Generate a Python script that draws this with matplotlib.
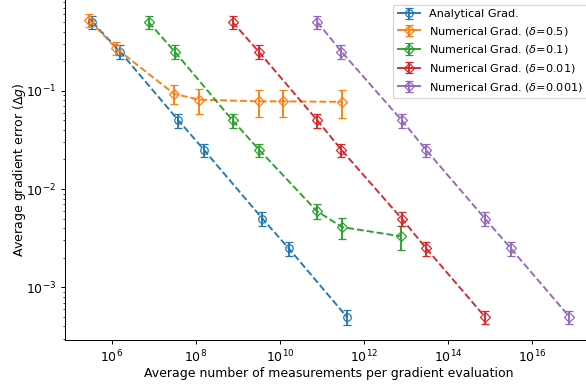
import numpy as np
import matplotlib
matplotlib.use("Agg")
import matplotlib.pyplot as plt
from matplotlib.lines import Line2D
from matplotlib.ticker import LogLocator, NullLocator

# Data
labels = ["Analytical Grad.",
          r"Numerical Grad. ($\delta$=0.5)",
          r"Numerical Grad. ($\delta$=0.1)",
          r"Numerical Grad. ($\delta$=0.01)",
          r"Numerical Grad. ($\delta$=0.001)"]

x_analytical = [3.4e5, 1.55e6, 3.8e7, 1.55e8, 3.8e9, 1.6e10, 3.9e11]
y_analytical = [0.5, 0.25, 0.05, 0.025, 0.005, 0.0025, 0.0005]
e_analytical = [0.08, 0.04, 0.008, 0.004, 0.0008, 0.0004, 0.00009]

x_d05 = [2.9e5, 1.25e6, 3.0e7, 1.2e8, 3.2e9, 1.2e10, 3.0e11]
y_d05 = [0.52, 0.27, 0.093, 0.081, 0.078, 0.078, 0.077]
e_d05 = [0.08, 0.04, 0.02, 0.023, 0.024, 0.024, 0.024]

x_d01 = [7.4e6, 3.1e7, 7.4e8, 3.2e9, 7.4e10, 3.0e11, 7.6e12]
y_d01 = [0.5, 0.25, 0.05, 0.025, 0.006, 0.0041, 0.0033]
e_d01 = [0.08, 0.04, 0.008, 0.004, 0.001, 0.001, 0.0009]

x_d001 = [7.4e8, 3.1e9, 7.7e10, 2.9e11, 7.9e12, 3.0e13, 7.6e14]
y_d001 = [0.5, 0.25, 0.05, 0.025, 0.005, 0.0025, 0.0005]
e_d001 = [0.08, 0.04, 0.008, 0.004, 0.0008, 0.0004, 0.00008]

x_d0001 = [7.7e10, 2.9e11, 7.9e12, 3.0e13, 7.6e14, 3.1e15, 7.8e16]
y_d0001 = [0.5, 0.25, 0.05, 0.025, 0.005, 0.0025, 0.0005]
e_d0001 = [0.08, 0.04, 0.008, 0.004, 0.0008, 0.0004, 0.00008]

series = [(x_analytical, y_analytical, e_analytical, 'o'),
          (x_d05, y_d05, e_d05, 'D'),
          (x_d01, y_d01, e_d01, 'D'),
          (x_d001, y_d001, e_d001, 'D'),
          (x_d0001, y_d0001, e_d0001, 'D')]
colors = ['#1f77b4', '#ff7f0e', '#2ca02c', '#d62728', '#9467bd']

DPI = 90
W, H = 586, 385
fig = plt.figure(figsize=(W / DPI, H / DPI), dpi=DPI)
left, right, bottom_px, top_px = 65, 593, 340, -1
ax = fig.add_axes([left / W, (H - bottom_px) / H, (right - left) / W, (bottom_px - top_px) / H])

for (x, y, e, m), c, lab in zip(series, colors, labels):
    ax.errorbar(x, y, yerr=e, fmt=m + '--', color=c, mfc='none', ms=6 if m == 'o' else 5.5,
                capsize=3, label=lab)

ax.set_xscale('log')
ax.set_yscale('log')
ax.set_xlim(10 ** 4.881, 10 ** 17.452)
ax.set_ylim(10 ** -3.536, 10 ** -0.067)
ax.xaxis.set_major_locator(LogLocator(base=100.0))
ax.xaxis.set_minor_locator(NullLocator())
ax.set_xlabel("Average number of measurements per gradient evaluation", labelpad=1)
ax.set_ylabel(r"Average gradient error ($\Delta g$)", labelpad=-1.5)
leg = ax.legend(loc='upper right', fontsize=9)
for ln in leg.findobj(Line2D):
    if ln.get_linestyle() == '--':
        ln.set_linestyle('-')

fig.savefig("out.png", dpi=DPI)
